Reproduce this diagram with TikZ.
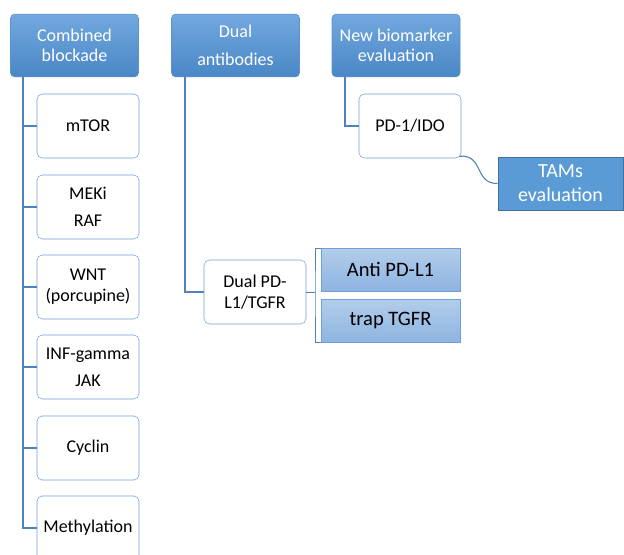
\documentclass[tikz,border=0pt]{standalone}
\usepackage{fontspec}
\setmainfont{Carlito}
\definecolor{hdtop}{HTML}{72A8DE}
\definecolor{hdbot}{HTML}{4A87C6}
\definecolor{hdline}{HTML}{5B93CF}
\definecolor{itemline}{HTML}{6FA0D8}
\definecolor{subtop}{HTML}{B3CDEB}
\definecolor{subbot}{HTML}{8DB4E0}
\definecolor{tamfill}{HTML}{5B9BD5}
\definecolor{tamline}{HTML}{41719C}
\definecolor{linkcol}{HTML}{4F81BD}
\begin{document}
\begin{tikzpicture}[x=0.75pt,y=-0.75pt,
	head/.style={rounded corners=3pt,top color=hdtop,bottom color=hdbot,draw=hdline,
		text=white,align=center,minimum width=96pt,minimum height=47pt,
		font=\fontsize{13.5}{15}\selectfont},
	item/.style={rounded corners=4pt,draw=itemline,fill=white,align=center,
		minimum width=76.5pt,minimum height=48pt,font=\fontsize{13.5}{15.5}\selectfont},
	sub/.style={draw=itemline,top color=subtop,bottom color=subbot,
		minimum width=104pt,minimum height=32pt,font=\fontsize{15.4}{18}\selectfont},
	link/.style={draw=linkcol,line width=0.8pt}]
	\useasboundingbox (0,0) rectangle (624,555);
	\clip (0,0) rectangle (624,555);

	\node[head] (comb) at (74.5,45.5) {Combined\\blockade};
	\node[head] (dual) at (235.5,45.5) {Dual\\[6pt]antibodies};
	\node[head] (newb) at (396,45.5) {New biomarker\\evaluation};

	\node[item] (mtor) at (88,126) {mTOR};
	\node[item] (meki) at (88,207) {MEKi\\[5pt]RAF};
	\node[item] (wnt) at (88,287) {WNT\\(porcupine)};
	\node[item] (inf) at (88,367) {INF-gamma\\[5pt]JAK};
	\node[item] (cyc) at (88,448) {Cyclin};
	\node[item] (meth) at (88,528) {Methylation};

	\node[item] (dpd) at (255,292) {Dual PD-\\L1/TGFR};
	\node[sub] (anti) at (390.5,269.5) {Anti PD-L1};
	\node[sub] (trap) at (390.5,320.5) {trap TGFR};

	\node[item] (pdido) at (410,126) {PD-1/IDO};
	\node[draw=tamline,fill=tamfill,text=white,align=center,minimum width=94pt,
		minimum height=40pt,font=\fontsize{15}{18}\selectfont] (tams) at (560.5,183.5) {TAMs\\evaluation};

	\coordinate (cbx) at (23,77);
	\coordinate (dax) at (185,77);
	\coordinate (nbx) at (345,77);
	\coordinate (brk) at (315,292);

	\draw[link] (cbx) |- (meth.west);
	\foreach \n in {mtor,meki,wnt,inf,cyc}
	\draw[link] (cbx |- \n.west) -- (\n.west);

	\draw[link] (dax) |- (dpd.west);
	\draw[link,line width=0.5pt] (dpd.east) -- (brk);
	\draw[link,line width=0.5pt] (anti.north west) -| (brk) |- (trap.south west);

	\draw[link] (nbx) |- (pdido.west);
	\draw[link] ([shift={(-2,-2)}]pdido.south east) .. controls (484,154) and (474,184) .. (tams.west);
\end{tikzpicture}
\end{document}
